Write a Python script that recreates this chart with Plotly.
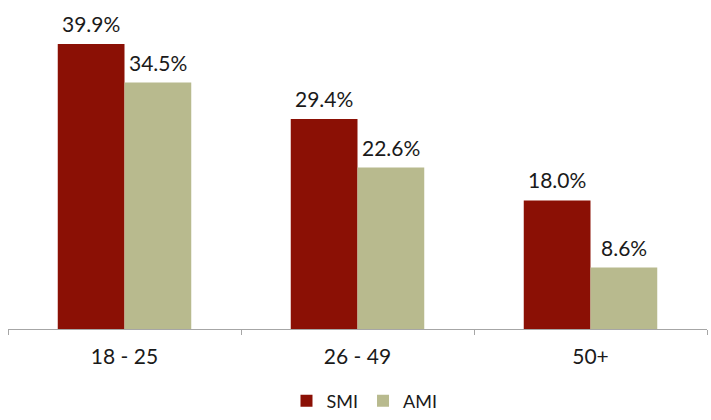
import plotly.graph_objects as go

# Share of each age group, by series (%)
age_groups = ["18 - 25", "26 - 49", "50+"]
smi_values = [39.9, 29.4, 18.0]
ami_values = [34.5, 22.6, 8.6]

RED = "#8B1005"
BEIGE = "#B8BA8E"
AXIS_GREY = "#A6A6A6"
TEXT = "#1A1A1A"
FONT = "Lato, 'Open Sans', sans-serif"

BARGAP = 0.427

fig = go.Figure()
fig.add_trace(go.Bar(name="SMI", x=age_groups, y=smi_values,
                     marker=dict(color=RED, line=dict(width=0))))
fig.add_trace(go.Bar(name="AMI", x=age_groups, y=ami_values,
                     marker=dict(color=BEIGE, line=dict(width=0))))

# value labels above each bar, offset to the bar centres within a group
half = (1 - BARGAP) / 4
annotations = []
for i, (s, a) in enumerate(zip(smi_values, ami_values)):
    for xv, val in ((i - half, s), (i + half, a)):
        annotations.append(dict(
            x=xv, y=val, xref="x", yref="y", text=f"{val:.1f}%",
            showarrow=False, yanchor="bottom", yshift=6,
            font=dict(family=FONT, size=21, color=TEXT)))

fig.update_layout(
    width=711, height=420,
    margin=dict(l=8, r=4, t=0, b=91),
    paper_bgcolor="white", plot_bgcolor="white",
    barmode="group", bargap=BARGAP, bargroupgap=0,
    font=dict(family=FONT, color=TEXT),
    annotations=annotations,
    showlegend=True,
    legend=dict(orientation="h", x=0.51, xanchor="center",
                yref="container", y=0.045, yanchor="middle",
                font=dict(family=FONT, size=18, color=TEXT),
                itemwidth=30, tracegroupgap=0),
    xaxis=dict(type="category", showline=True, linecolor=AXIS_GREY, linewidth=1,
               ticks="outside", tickson="boundaries", ticklen=5,
               tickcolor=AXIS_GREY, tickwidth=1, ticklabelstandoff=9,
               tickfont=dict(family=FONT, size=21, color=TEXT),
               showgrid=False, zeroline=False),
    yaxis=dict(visible=False, range=[0, 46.07], showgrid=False, zeroline=False),
)

fig.write_html("out.html")
